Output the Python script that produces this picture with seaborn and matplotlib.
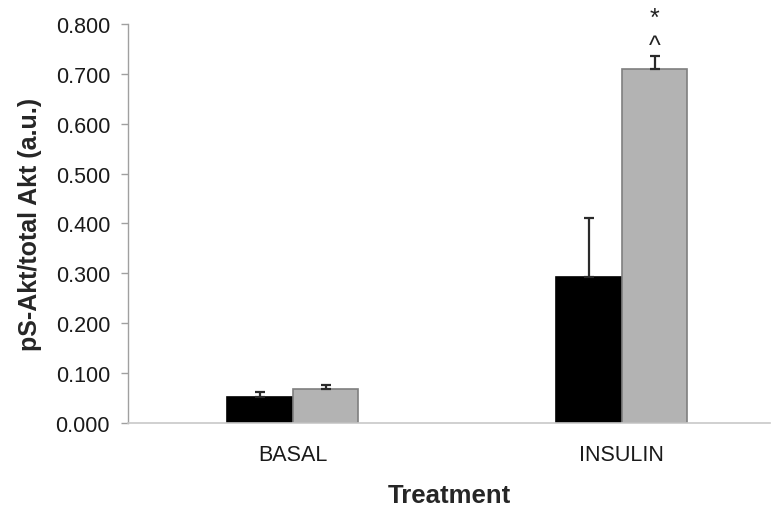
import matplotlib
matplotlib.use("Agg")
import matplotlib.pyplot as plt
import seaborn as sns
import pandas as pd

treatments = ["BASAL", "INSULIN"]
groups = ["Control", "Treated"]
means_control = [0.052, 0.293]
means_treated = [0.068, 0.709]
sem_control = [0.009, 0.118]
sem_treated = [0.007, 0.027]
yticks = [0.0, 0.1, 0.2, 0.3, 0.4, 0.5, 0.6, 0.7, 0.8]

df = pd.DataFrame({
    "Treatment": treatments * 2,
    "Group": [groups[0]] * 2 + [groups[1]] * 2,
    "value": means_control + means_treated,
})

sns.set_style("white")
plt.rcParams["font.family"] = ["Liberation Sans", "DejaVu Sans"]

fig = plt.figure(figsize=(7.72, 5.10), dpi=100)
ax = fig.add_axes([0.166, 0.169, 0.831, 0.782])

sns.barplot(data=df, x="Treatment", y="value", hue="Group",
            palette=["#000000", "#b3b3b3"], width=0.4, errorbar=None,
            legend=False, ax=ax)

edge_colors = ["#000000", "#7f7f7f"]
errs = [sem_control, sem_treated]
for container, ec, err in zip(ax.containers, edge_colors, errs):
    for bar, e in zip(container, err):
        bar.set_edgecolor(ec)
        bar.set_linewidth(1.2)
        cx = bar.get_x() + bar.get_width() / 2
        top = bar.get_height()
        ax.errorbar([cx], [top], yerr=[[0], [e]], fmt="none",
                    ecolor="#2a2a2a", elinewidth=1.6, capsize=3.5,
                    capthick=1.6, zorder=3)

# significance marks (stacked) above the insulin-treated bar;
# baseline alignment anchors the last line (the caret)
ins_bar = ax.containers[1][1]
cx = ins_bar.get_x() + ins_bar.get_width() / 2
top = ins_bar.get_height() + sem_treated[1]
ax.text(cx, top + 0.006, "*\n^", ha="center", va="baseline", fontsize=18,
        color="#222222", linespacing=1.2, multialignment="center",
        clip_on=False)

ax.set_ylim(0, 0.8)
ax.set_xlim(-0.5, 1.45)
ax.set_yticks(yticks)
ax.set_yticklabels([f"{t:.3f}" for t in yticks], fontsize=15.5, color="#1a1a1a")
ax.tick_params(axis="y", direction="out", length=5, width=1, color="#a0a0a0",
               left=True, pad=8)
ax.tick_params(axis="x", length=0, labelsize=15.5, pad=15)
for lab in ax.get_xticklabels():
    lab.set_color("#1a1a1a")

ax.set_ylabel("pS-Akt/total Akt (a.u.)", fontsize=18, fontweight="bold",
              labelpad=10)
ax.set_xlabel("Treatment", fontsize=18.5, fontweight="bold", labelpad=13)

for side in ["top", "right"]:
    ax.spines[side].set_visible(False)
ax.spines["left"].set_color("#a0a0a0")
ax.spines["bottom"].set_color("#c8c8c8")
ax.spines["left"].set_linewidth(1)
ax.spines["bottom"].set_linewidth(1.2)

fig.savefig("out.png", dpi=100)
